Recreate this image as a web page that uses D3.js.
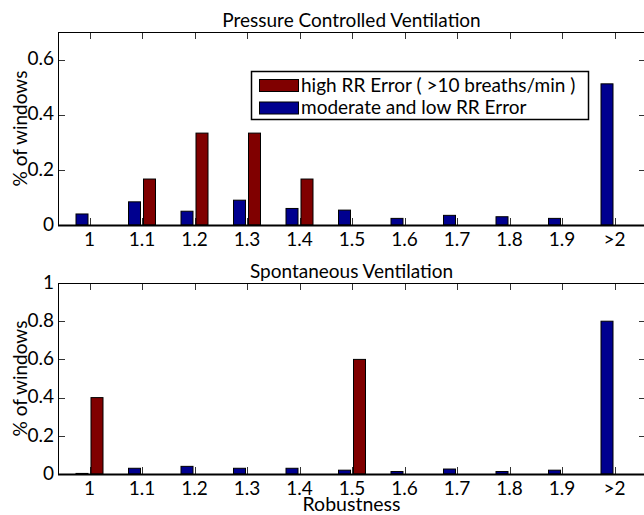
<!DOCTYPE html>
<html>
<head>
<meta charset="utf-8">
<script src="https://cdn.jsdelivr.net/npm/d3@7"></script>
<style>
  body { margin: 0; background: #fff; }
  svg { display: block; }
</style>
</head>
<body>
<svg id="chart" width="644" height="515"></svg>
<script>
// categories along the x axis (bins of robustness)
const categories = ["1", "1.1", "1.2", "1.3", "1.4", "1.5", "1.6", "1.7", "1.8", "1.9", ">2"];

// pressure controlled ventilation
const pcvModerate = [0.04, 0.084, 0.05, 0.09, 0.06, 0.054, 0.024, 0.035, 0.03, 0.024, 0.512];
const pcvHigh     = [0, 0.1667, 0.3333, 0.3333, 0.1667, 0, 0, 0, 0, 0, 0];

// spontaneous ventilation
const spvModerate = [0.003, 0.03, 0.04, 0.03, 0.03, 0.02, 0.013, 0.026, 0.013, 0.02, 0.8];
const spvHigh     = [0.4, 0, 0, 0, 0, 0.6, 0, 0, 0, 0, 0];

const pcvTicks = [0, 0.2, 0.4, 0.6];
const spvTicks = [0, 0.2, 0.4, 0.6, 0.8, 1];

const seriesNames = ["high RR Error ( >10 breaths/min )", "moderate and low RR Error"];
const colHigh = "#800000", colMod = "#00008f";

const font = "Lato, 'Open Sans', sans-serif";
const svg = d3.select("#chart").attr("font-family", font);

// matlab-like axis x limits
const x = d3.scaleLinear().domain([0.4, categories.length + 0.6]).range([58, 646]);
const barW = 0.2286, off = 0.1428;
const tickLen = 7;

function panel({top, bottom, ymax, ticks, moderate, high, title, xlabel}) {
  const y = d3.scaleLinear().domain([0, ymax]).range([bottom, top]);
  const g = svg.append("g");
  const [x0, x1] = x.range();

  // tick marks (drawn under the bars)
  const tg = g.append("g").attr("stroke", "#333").attr("stroke-width", 1);
  categories.forEach((c, i) => {
    const px = Math.round(x(i + 1)) + 0.5;
    tg.append("line").attr("x1", px).attr("x2", px).attr("y1", top).attr("y2", top + tickLen);
    tg.append("line").attr("x1", px).attr("x2", px).attr("y1", bottom).attr("y2", bottom - tickLen);
  });
  ticks.forEach(t => {
    const py = Math.round(y(t)) + 0.5;
    tg.append("line").attr("x1", x0).attr("x2", x0 + tickLen).attr("y1", py).attr("y2", py);
    tg.append("line").attr("x1", x1).attr("x2", x1 - tickLen).attr("y1", py).attr("y2", py);
  });

  // bars
  const drawBars = (vals, shift, fill) => {
    g.append("g").selectAll("rect")
      .data(vals.map((v, i) => ({v, i})).filter(d => d.v > 0))
      .join("rect")
        .attr("x", d => x(d.i + 1 + shift - barW / 2))
        .attr("width", d => x(d.i + 1 + shift + barW / 2) - x(d.i + 1 + shift - barW / 2))
        .attr("y", d => y(d.v))
        .attr("height", d => y(0) - y(d.v))
        .attr("fill", fill)
        .attr("stroke", "#000")
        .attr("stroke-width", 1);
  };
  drawBars(moderate, -off, colMod);
  drawBars(high, off, colHigh);

  // box
  g.append("rect")
    .attr("x", x0 + 0.5).attr("y", top + 0.5)
    .attr("width", x1 - x0).attr("height", bottom - top)
    .attr("fill", "none").attr("stroke", "#000").attr("stroke-width", 1);
  g.append("line").attr("x1", x0).attr("x2", x1).attr("y1", bottom + 0.5).attr("y2", bottom + 0.5)
    .attr("stroke", "#000").attr("stroke-width", 2);

  // tick labels
  g.append("g").attr("font-size", 19).attr("text-anchor", "middle")
    .selectAll("text").data(categories).join("text")
      .attr("x", (d, i) => x(i + 1))
      .attr("y", bottom + 21)
      .text(d => d);
  g.append("g").attr("font-size", 19).attr("text-anchor", "end")
    .selectAll("text").data(ticks).join("text")
      .attr("x", x0 - 4)
      .attr("y", d => y(d))
      .attr("dy", "0.3em")
      .text(d => d3.format("~g")(d));

  // title
  g.append("text").attr("x", (x0 + 645) / 2).attr("y", top - 5)
    .attr("text-anchor", "middle").attr("font-size", 19).text(title);

  // y label
  g.append("text")
    .attr("transform", `translate(27,${(top + bottom) / 2}) rotate(-90)`)
    .attr("text-anchor", "middle").attr("font-size", 19).text("% of windows");

  if (xlabel) {
    g.append("text").attr("x", (x0 + 645) / 2).attr("y", bottom + 37)
      .attr("text-anchor", "middle").attr("font-size", 19.5).text(xlabel);
  }
  return y;
}

panel({top: 32, bottom: 225, ymax: 0.7, ticks: pcvTicks, moderate: pcvModerate, high: pcvHigh,
       title: "Pressure Controlled Ventilation"});
panel({top: 283, bottom: 474, ymax: 1, ticks: spvTicks, moderate: spvModerate, high: spvHigh,
       title: "Spontaneous Ventilation", xlabel: "Robustness"});

// legend
const lg = svg.append("g");
lg.append("rect").attr("x", 251.5).attr("y", 71.5).attr("width", 337).attr("height", 48)
  .attr("fill", "#fff").attr("stroke", "#000").attr("stroke-width", 1.5);
[colHigh, colMod].forEach((c, i) => {
  lg.append("rect").attr("x", 259.5).attr("y", 79.5 + i * 22.5).attr("width", 39).attr("height", 12)
    .attr("fill", c).attr("stroke", "#000").attr("stroke-width", 1);
  lg.append("text").attr("x", 301).attr("y", 92 + i * 22).attr("font-size", 19)
    .text(seriesNames[i]);
});
</script>
</body>
</html>
